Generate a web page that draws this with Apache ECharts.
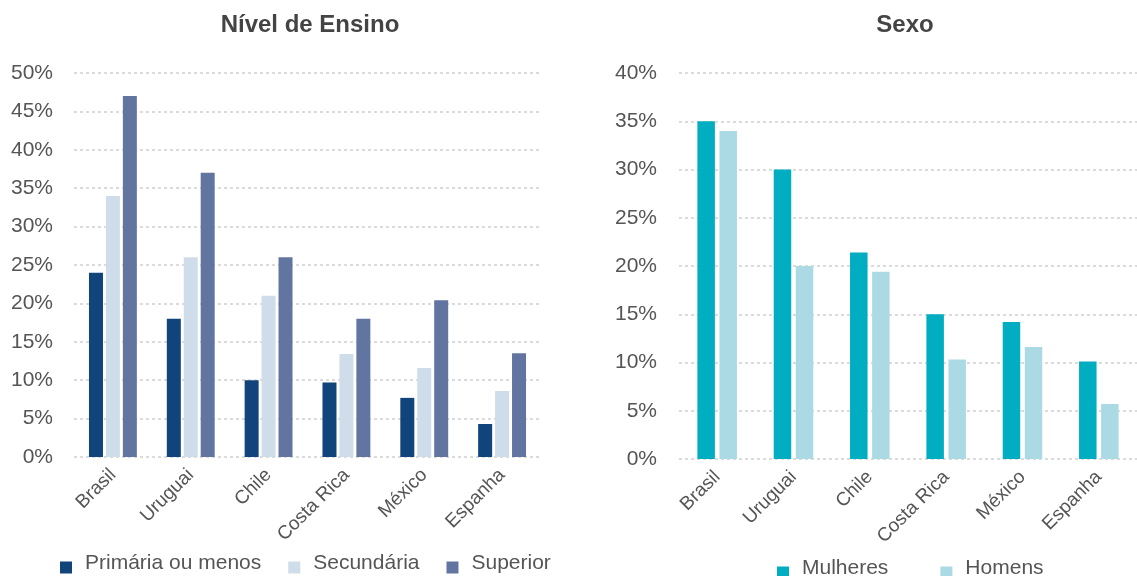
<!DOCTYPE html>
<html>
<head>
<meta charset="utf-8">
<style>
  html, body { margin: 0; padding: 0; background: #fff; }
  #chart { width: 1137px; height: 576px; }
</style>
<script src="https://cdn.jsdelivr.net/npm/echarts@6/dist/echarts.min.js"></script>
</head>
<body>
<div id="chart"></div>
<script>
// dados
const countries = ['Brasil', 'Uruguai', 'Chile', 'Costa Rica', 'México', 'Espanha'];

const primaria = [24, 18, 10, 9.7, 7.7, 4.3];
const secundaria = [34, 26, 21, 13.4, 11.6, 8.6];
const superior = [47, 37, 26, 18, 20.4, 13.5];

const mulheres = [35, 30, 21.4, 15, 14.2, 10.1];
const homens = [34, 20, 19.4, 10.3, 11.6, 5.7];

const font = "'Liberation Sans', Arial, sans-serif";
const labelColor = '#555';

const chart = echarts.init(document.getElementById('chart'));

const yAxisBase = (grid, max, margin) => ({
  type: 'value',
  gridIndex: grid,
  min: 0,
  max: max,
  interval: 5,
  axisLine: { show: false },
  axisTick: { show: false },
  axisLabel: { formatter: '{value}%', color: labelColor, fontSize: 21, fontFamily: font, margin: margin },
  splitLine: { lineStyle: { color: '#cfcfcf', width: 1.5, type: [3, 3] } }
});

const xAxisBase = (grid) => ({
  type: 'category',
  gridIndex: grid,
  data: countries,
  axisLine: { show: false },
  axisTick: { show: false },
  axisLabel: { rotate: 45, color: labelColor, fontSize: 19, fontFamily: font, margin: 15, interval: 0 }
});

// quadrado do legend fica mais baixo que o texto
const legendIcon = 'path://M0,0M0,8L12,8L12,20L0,20Z';
const legendText = { color: labelColor, fontSize: 21, fontFamily: font, padding: [0, 0, 0, 8] };

chart.setOption({
  animation: false,
  textStyle: { fontFamily: font },
  title: [
    { text: 'Nível de Ensino', left: 305, top: 8, textAlign: 'center',
      textStyle: { color: '#444', fontSize: 24, fontWeight: 'bold', fontFamily: font } },
    { text: 'Sexo', left: 900, top: 8, textAlign: 'center',
      textStyle: { color: '#444', fontSize: 24, fontWeight: 'bold', fontFamily: font } }
  ],
  legend: [
    { left: 55, top: 548, itemWidth: 12, itemHeight: 20, itemGap: 27, icon: legendIcon,
      data: ['Primária ou menos', 'Secundária', 'Superior'], textStyle: legendText },
    { left: 772, top: 553, itemWidth: 12, itemHeight: 20, itemGap: 52, icon: legendIcon,
      data: ['Mulheres', 'Homens'], textStyle: legendText }
  ],
  grid: [
    { left: 74, top: 73, width: 467, bottom: 119 },
    { left: 679, top: 73, width: 468, bottom: 117 }
  ],
  xAxis: [xAxisBase(0), xAxisBase(1)],
  yAxis: [yAxisBase(0, 50, 21), yAxisBase(1, 40, 22)],
  series: [
    { name: 'Primária ou menos', type: 'bar', xAxisIndex: 0, yAxisIndex: 0, barWidth: 14, barGap: '21%',
      itemStyle: { color: '#10447b' }, data: primaria },
    { name: 'Secundária', type: 'bar', xAxisIndex: 0, yAxisIndex: 0, barWidth: 14, barGap: '21%',
      itemStyle: { color: '#cfdcea' }, data: secundaria },
    { name: 'Superior', type: 'bar', xAxisIndex: 0, yAxisIndex: 0, barWidth: 14, barGap: '21%',
      itemStyle: { color: '#6275a1' }, data: superior },
    { name: 'Mulheres', type: 'bar', xAxisIndex: 1, yAxisIndex: 1, barWidth: 17.5, barGap: '26%',
      itemStyle: { color: '#00adc1' }, data: mulheres },
    { name: 'Homens', type: 'bar', xAxisIndex: 1, yAxisIndex: 1, barWidth: 17.5, barGap: '26%',
      itemStyle: { color: '#abdae5' }, data: homens }
  ]
});
</script>
</body>
</html>
